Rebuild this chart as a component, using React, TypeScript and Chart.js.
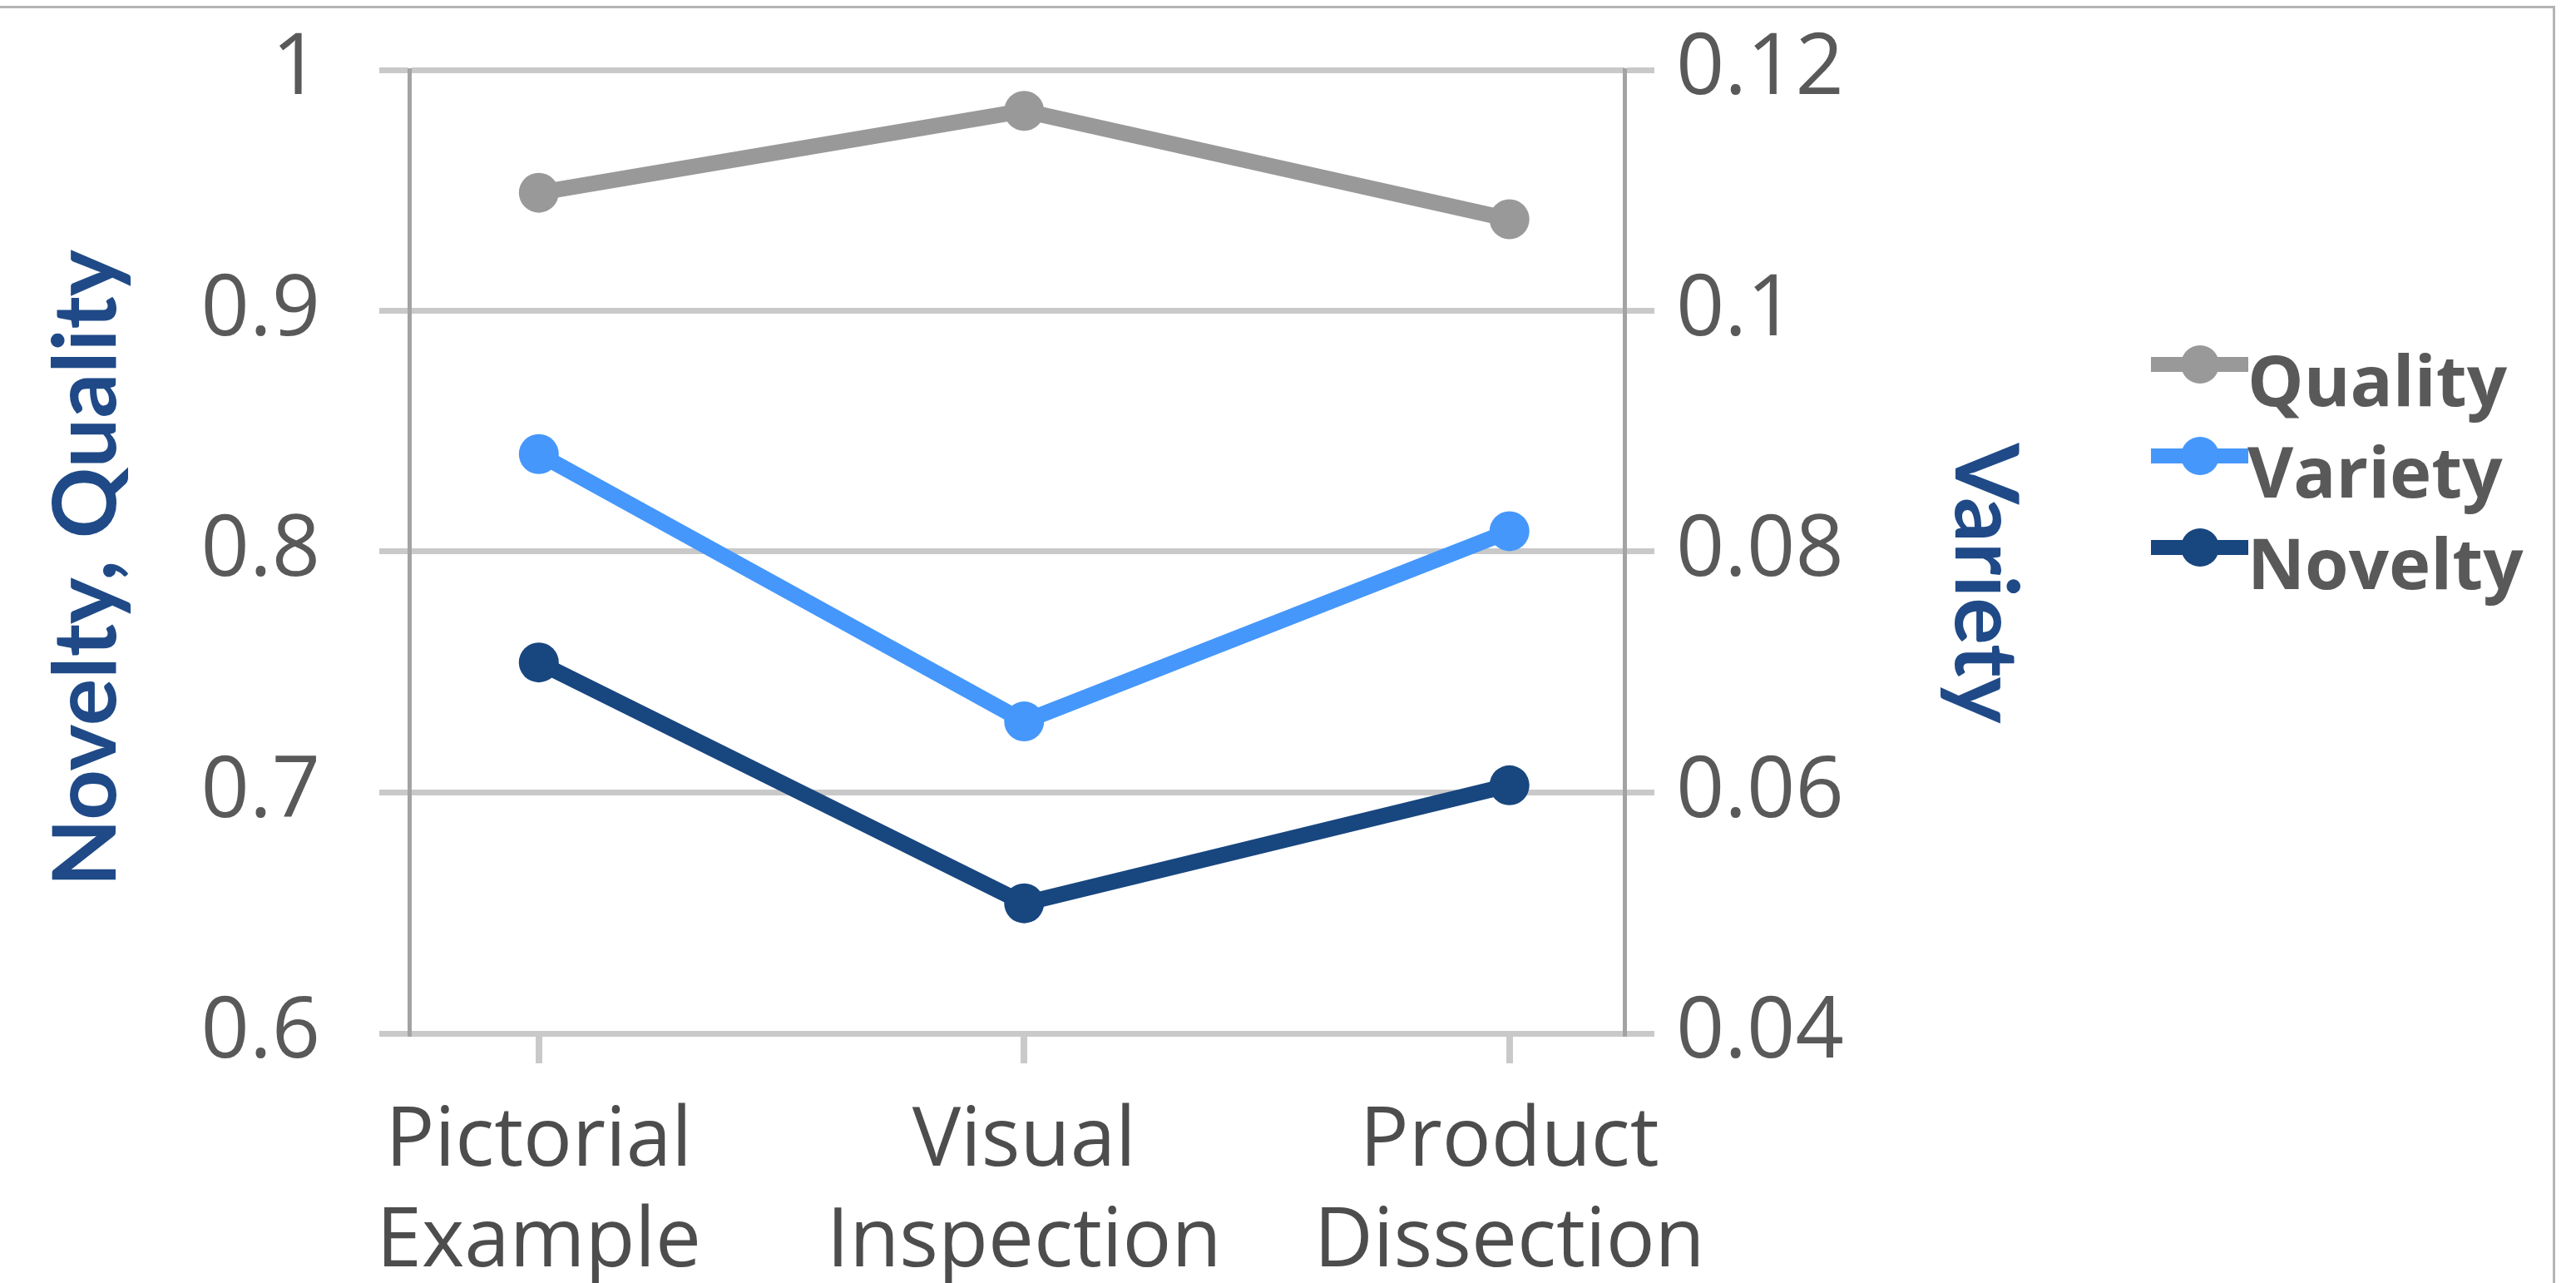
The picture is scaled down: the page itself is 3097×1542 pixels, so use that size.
import { useEffect, useRef } from "react";
import { Chart, registerables } from "chart.js";

Chart.register(...registerables);

// ---- data ----
const categories: string[][] = [
  ["Pictorial", "Example"],
  ["Visual", "Inspection"],
  ["Product", "Dissection"],
];
const seriesNames = ["Quality", "Variety", "Novelty"];
const qualityValues = [0.949, 0.983, 0.938];
const varietyValues = [0.0881, 0.0659, 0.0817];
const noveltyValues = [0.754, 0.654, 0.703];
const leftTickValues = [0.6, 0.7, 0.8, 0.9, 1];
const leftTickLabels = ["0.6", "0.7", "0.8", "0.9", "1"];
const rightTickValues = [0.04, 0.06, 0.08, 0.1, 0.12];
const rightTickLabels = ["0.04", "0.06", "0.08", "0.1", "0.12"];
const leftTitle = "Novelty, Quality";
const rightTitle = "Variety";

// ---- styles ----
const COLORS = ["#999999", "#4597fb", "#18467f"];
const GRID = "#c9c9c9";
const AXIS = "#a3a3a3";
const TICK_TEXT = "#595959";
const CAT_TEXT = "#4d4d4d";
const TITLE_TEXT = "#1f4a87";
const TITLE_FONT = 'bold 106px Lato';

const legendPlugin = {
  id: "customLegend",
  afterDraw(chart: any) {
    const ctx = chart.ctx as CanvasRenderingContext2D;
    const x0 = 2586;
    const x1 = 2703;
    const cx = 2645;
    const y0 = 438;
    const dy = 110;
    chart.data.datasets.forEach((ds: any, i: number) => {
      const y = y0 + dy * i;
      ctx.save();
      ctx.strokeStyle = ds.borderColor;
      ctx.lineWidth = 18;
      ctx.beginPath();
      ctx.moveTo(x0, y);
      ctx.lineTo(x1, y);
      ctx.stroke();
      ctx.fillStyle = ds.borderColor;
      ctx.beginPath();
      ctx.arc(cx, y, 23, 0, Math.PI * 2);
      ctx.fill();
      ctx.font = 'bold 85px "Open Sans"';
      ctx.fillStyle = TICK_TEXT;
      ctx.textAlign = "left";
      ctx.textBaseline = "alphabetic";
      ctx.fillText(ds.label, 2702, y + 50);
      ctx.restore();
    });
  },
};

const axisTitlePlugin = {
  id: "axisTitles",
  afterDraw(chart: any) {
    const ctx = chart.ctx as CanvasRenderingContext2D;
    ctx.save();
    ctx.font = TITLE_FONT;
    ctx.fillStyle = TITLE_TEXT;
    ctx.textAlign = "center";
    ctx.textBaseline = "middle";
    ctx.translate(105, 683);
    ctx.rotate(-Math.PI / 2);
    ctx.fillText(leftTitle, 0, 0);
    ctx.restore();

    ctx.save();
    ctx.font = TITLE_FONT;
    ctx.fillStyle = TITLE_TEXT;
    ctx.textAlign = "center";
    ctx.textBaseline = "middle";
    ctx.translate(2385, 701);
    ctx.rotate(Math.PI / 2);
    ctx.fillText(rightTitle, 0, 0);
    ctx.restore();
  },
};

export default function App() {
  const canvasRef = useRef<HTMLCanvasElement | null>(null);

  useEffect(() => {
    document.body.style.margin = "0";
    document.body.style.overflow = "hidden";
    const canvas = canvasRef.current;
    if (!canvas) return;

    const toPoints = (vals: number[]) => vals.map((v, i) => ({ x: i, y: v }));

    const chart = new Chart(canvas, {
      type: "line",
      data: {
        datasets: [
          {
            label: seriesNames[0],
            data: toPoints(qualityValues),
            borderColor: COLORS[0],
            backgroundColor: COLORS[0],
            yAxisID: "y",
          },
          {
            label: seriesNames[1],
            data: toPoints(varietyValues),
            borderColor: COLORS[1],
            backgroundColor: COLORS[1],
            yAxisID: "y2",
          },
          {
            label: seriesNames[2],
            data: toPoints(noveltyValues),
            borderColor: COLORS[2],
            backgroundColor: COLORS[2],
            yAxisID: "y",
          },
        ],
      },
      options: {
        animation: false,
        responsive: false,
        devicePixelRatio: 1,
        events: [],
        layout: { padding: { left: 0, top: 84, right: 597, bottom: 0 } },
        elements: {
          line: { tension: 0, borderWidth: 19, fill: false },
          point: { radius: 24, hoverRadius: 24, borderWidth: 0 },
        },
        plugins: {
          legend: { display: false },
          tooltip: { enabled: false },
        },
        scales: {
          x: {
            type: "linear",
            min: -0.267,
            max: 2.237,
            afterBuildTicks: (scale: any) => {
              scale.ticks = categories.map((_, i) => ({ value: i }));
            },
            afterFit: (scale: any) => {
              scale.height = 300;
            },
            grid: {
              drawOnChartArea: false,
              drawTicks: true,
              tickLength: 36,
              color: GRID,
              lineWidth: 8,
            },
            border: { display: false },
            ticks: {
              autoSkip: false,
              maxRotation: 0,
              minRotation: 0,
              padding: 35,
              color: CAT_TEXT,
              font: { family: '"Open Sans"', size: 98, lineHeight: 1.235 },
              callback: (value: any) => categories[Math.round(Number(value))] ?? "",
            },
          },
          y: {
            type: "linear",
            position: "left",
            min: 0.6,
            max: 1,
            afterBuildTicks: (scale: any) => {
              scale.ticks = leftTickValues.map((v) => ({ value: v }));
            },
            afterFit: (scale: any) => {
              scale.width = 492;
              scale.paddingTop = 0;
              scale.paddingBottom = 0;
            },
            grid: {
              drawOnChartArea: true,
              drawTicks: true,
              tickLength: 36,
              color: GRID,
              lineWidth: 7,
            },
            border: { display: true, color: AXIS, width: 5 },
            ticks: {
              padding: 71,
              color: TICK_TEXT,
              font: { family: '"Open Sans"', size: 102 },
              callback: (value: any) => {
                const idx = leftTickValues.findIndex((t) => Math.abs(t - Number(value)) < 1e-9);
                return idx >= 0 ? leftTickLabels[idx] : "";
              },
            },
            title: { display: false },
          },
          y2: {
            type: "linear",
            position: "right",
            min: 0.04,
            max: 0.12,
            afterBuildTicks: (scale: any) => {
              scale.ticks = rightTickValues.map((v) => ({ value: v }));
            },
            afterFit: (scale: any) => {
              scale.width = 547;
              scale.paddingTop = 0;
              scale.paddingBottom = 0;
            },
            grid: {
              drawOnChartArea: false,
              drawTicks: true,
              tickLength: 36,
              color: GRID,
              lineWidth: 7,
            },
            border: { display: true, color: AXIS, width: 5 },
            ticks: {
              padding: 26,
              color: TICK_TEXT,
              font: { family: '"Open Sans"', size: 102 },
              callback: (value: any) => {
                const idx = rightTickValues.findIndex((t) => Math.abs(t - Number(value)) < 1e-9);
                return idx >= 0 ? rightTickLabels[idx] : "";
              },
            },
            title: { display: false },
          },
        },
      },
      plugins: [legendPlugin, axisTitlePlugin],
    } as any);

    return () => {
      chart.destroy();
    };
  }, []);

  return (
    <div style={{ position: "relative", width: 3097, height: 1542, overflow: "hidden", background: "#ffffff" }}>
      <canvas ref={canvasRef} width={3097} height={1542} style={{ position: "absolute", left: 0, top: 0, width: 3097, height: 1542 }} />
      <div
        style={{
          position: "absolute",
          left: -10,
          top: 7,
          width: 3082,
          height: 2000,
          borderTop: "3px solid #b4b4b4",
          borderRight: "3px solid #b4b4b4",
          boxSizing: "border-box",
          pointerEvents: "none",
        }}
      />
    </div>
  );
}
